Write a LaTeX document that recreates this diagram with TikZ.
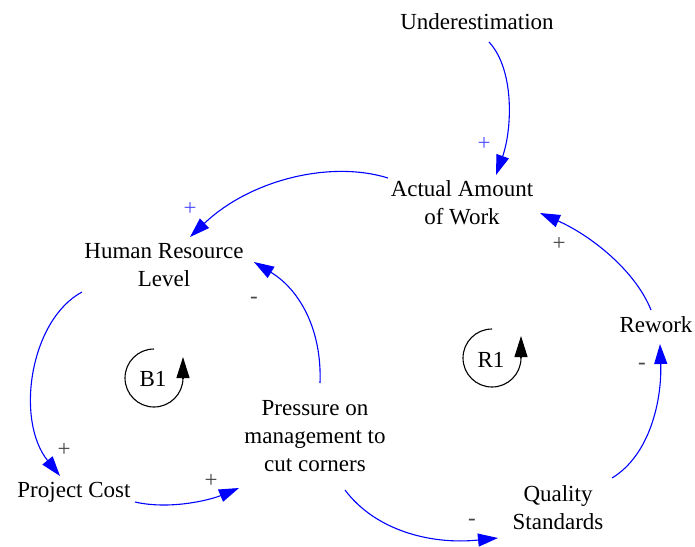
\documentclass[tikz,border=0pt]{standalone}
\usepackage{fontspec}
\setmainfont{Liberation Serif}
\usetikzlibrary{arrows.meta,calc}
\definecolor{linkblue}{RGB}{0,0,255}
\definecolor{plusblue}{RGB}{80,80,255}
\definecolor{signgray}{RGB}{70,70,70}
\begin{document}
\begin{tikzpicture}[x=1pt,y=-1pt,
  lab/.style={font=\fontsize{23}{28}\selectfont, align=center, inner sep=0pt},
  link/.style={linkblue, line width=1.1pt, -{Triangle[length=20pt,width=13pt]}},
  sgn/.style={font=\fontsize{23}{24}\selectfont, inner sep=0pt, text=signgray},
  bsgn/.style={sgn, text=plusblue},
  loopline/.style={black, line width=1.1pt},
  looptip/.style={black, line width=1.1pt, -{Triangle[length=21pt,width=13pt]}}]
\useasboundingbox (0,0) rectangle (695,546);
% nodes
\node[lab] (under) at (477,22) {Underestimation};
\node[lab] (actual) at (462,203) {Actual Amount\\of Work};
\node[lab] (human) at (164,265) {Human Resource\\Level};
\node[lab] (rework) at (656,325) {Rework};
\node[lab] (press) at (315,436) {Pressure on\\management to\\cut corners};
\node[lab] (cost) at (74,492) {Project Cost};
\node[lab] (qual) at (558,508) {Quality\\Standards};
\node[lab] (b1) at (153,379) {B1};
\node[lab] (r1) at (491,360) {R1};
% links
\draw[link] ($(under)+(12,20)$) .. controls (515,70) and (512,130) .. ($(actual)+(34,-28)$);
\draw[link] ($(actual)+(-74,-25)$) .. controls (330,160) and (250,180) .. ($(human)+(26,-28)$);
\draw[link] ($(rework)+(-5,-15)$) .. controls (635,270) and (590,235) .. ($(actual)+(78,10)$);
\draw[link] ($(human)+(-82,27)$) .. controls (30,320) and (15,420) .. ($(cost)+(-14,-16)$);
\draw[link] ($(cost)+(61,10)$) .. controls (170,510) and (210,500) .. ($(press)+(-76,52)$);
\draw[link] ($(press)+(5,-53)$) .. controls (322,330) and (300,290) .. ($(human)+(90,-3)$);
\draw[link] ($(press)+(30,54)$) .. controls (375,530) and (430,545) .. ($(qual)+(-60,30)$);
\draw[link] ($(qual)+(54,-30)$) .. controls (650,455) and (662,400) .. ($(rework)+(4,19)$);
% signs
\node[bsgn] (s1) at (484,144) {+};
\node[bsgn] (s2) at (190,209) {+};
\node[sgn] (s3) at (559,244) {+};
\node[sgn] (s4) at (64,450) {+};
\node[sgn] (s5) at (211,481) {+};
\node[sgn] (s6) at (254,300) {-};
\node[sgn] (s7) at (472,522) {-};
\node[sgn] (s8) at (642,366) {-};
% loop symbols
\draw[loopline] ($(b1)+(1,-30)$) arc[start angle=270,end angle=0,radius=29];
\draw[looptip] ($(b1)+(30,0)$) -- ++(0,-22);
\draw[loopline] ($(r1)+(1,-31)$) arc[start angle=270,end angle=0,radius=29];
\draw[looptip] ($(r1)+(30,-2)$) -- ++(0,-22);
\end{tikzpicture}
\end{document}
